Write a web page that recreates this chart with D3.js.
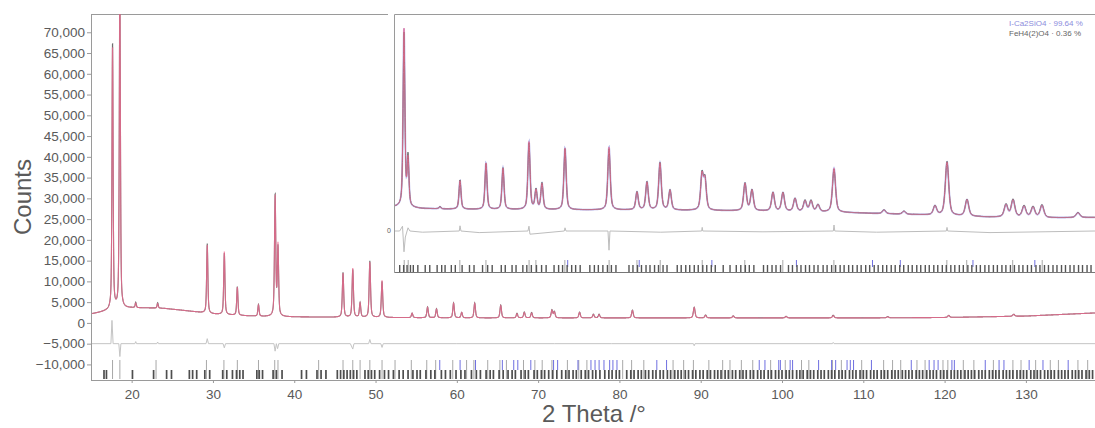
<!DOCTYPE html>
<html><head><meta charset="utf-8">
<script src="https://cdn.jsdelivr.net/npm/d3@7"></script>
<style>
body{margin:0;background:#fff;}
svg{display:block;font-family:"Liberation Sans",Arial,sans-serif;}
</style>
</head><body>
<svg id="chart" width="1095" height="428"></svg>
<script>
// ---------------- main pattern data ----------------
const bgX = [15, 16, 17, 18, 19, 20, 22, 24, 26, 28, 30, 33, 36, 40, 50, 60, 80, 100, 110, 120, 130, 138.5];
const bgY = [2150, 2500, 2900, 3300, 3500, 3600, 3600, 3500, 3100, 2650, 2150, 1800, 1550, 1450, 1300, 1200, 1200, 1200, 1200, 1300, 1650, 2400];

const peakPos    = [17.65, 18.55, 20.5, 23.2, 29.3, 31.4, 33.0, 35.6, 37.65, 38.0, 46.0, 47.2, 48.1, 49.3, 50.8,
                    54.5, 56.4, 57.5, 59.6, 60.6, 62.2, 65.4, 67.4, 68.3, 69.2, 71.7, 72.0, 75.1, 76.8, 77.5,
                    81.6, 89.2, 90.6, 94.0, 100.5, 106.3, 113.0, 120.5, 128.5];
const calcHeight = [63500, 80000, 1100, 1100, 16400, 15200, 6800, 2700, 28800, 17000, 10600, 11800, 3400, 13300, 8900,
                    1100, 2500, 2100, 3500, 1300, 3500, 3000, 1000, 1300, 1200, 1800, 1400, 1300, 800, 800,
                    1800, 2500, 600, 450, 350, 550, 250, 450, 450];
const obsHeight  = [64500, 78000, 1300, 1300, 16800, 14800, 6900, 2800, 29200, 16400, 10800, 11500, 3500, 13600, 8700,
                    1100, 2600, 2200, 3600, 1300, 3600, 3100, 1100, 1400, 1300, 1900, 1500, 1400, 900, 900,
                    1900, 2600, 700, 500, 400, 650, 300, 500, 500];

const diffX = [15, 17.45, 17.58, 17.72, 18.42, 18.55, 18.68, 20.4, 20.5, 20.6, 23.1, 23.2, 23.3, 29.15, 29.3, 29.45,
               31.25, 31.4, 31.55, 37.5, 37.65, 37.8, 37.95, 38.1, 46.9, 47.2, 47.35, 49.15, 49.3, 49.45,
               50.65, 50.8, 50.95, 60, 72, 79, 89.1, 89.2, 89.3, 106.2, 106.3, 106.4, 138.5];
const diffY = [-5000, -5000, 600, -5000, -5000, -8100, -5000, -5000, -4500, -5000, -5000, -4600, -5000, -5000, -3800, -5000,
               -5000, -6000, -5000, -5000, -6800, -5000, -6200, -5000, -5000, -6300, -5000, -5000, -4000, -5000,
               -5000, -5900, -5000, -5000, -5000, -5000, -5000, -5500, -5000, -5000, -4700, -5000, -5000];

// reflection markers (2θ)
const ticksMajor = [17.65, 18.55, 23.0, 29.2, 31.35, 33.0, 35.6, 37.6, 38.0, 43.0, 46.0, 47.2, 48.1, 49.3, 50.8,
                    52.4, 54.4, 56.3, 57.4, 59.5, 61.2, 62.1, 63.8, 65.3, 66.1, 68.2, 69.6, 70.5, 71.7, 73.6,
                    75.0, 76.0, 80.4, 81.5, 83.0, 86.6, 87.9, 89.1, 91.0, 92.7, 93.6, 95.0, 96.4, 98.6, 100.4,
                    102.4, 103.3, 106.2, 107.3, 109.8, 112.5, 113.6, 114.6, 116.6, 117.6, 119.8, 120.4, 122.3,
                    123.6, 126.0, 128.4, 129.4, 131.2, 133.0, 134.0, 136.4, 137.6];
const ticksBlue = [57.9, 60.4, 62.3, 65.6, 67.0, 67.5, 69.1, 71.9, 72.4, 74.9, 76.5, 77.0, 77.5, 78.1, 78.8, 79.2, 79.7,
                   84.6, 85.8, 97.2, 97.9, 99.6, 99.8, 101.0, 101.3, 104.5, 106.1, 106.6, 108.0, 108.4, 108.8,
                   111.0, 115.9, 118.1, 118.7, 119.2, 120.9, 121.2, 125.0, 126.7, 127.3, 130.4, 132.1, 135.2];
const ticksDark = [16.6, 16.9, 20.1, 22.7, 24.3, 24.9, 27.1, 27.5, 28.0, 29.0, 29.6, 31.2, 31.7, 32.4, 32.9, 33.3, 33.7,
  35.4, 35.7, 36.1, 37.4, 37.8, 38.5, 40.9, 41.5, 42.8, 43.3, 43.9, 45.3, 45.7, 46.1, 46.5, 46.9, 47.3, 47.7,
  48.7, 49.1, 49.5, 49.9, 50.5, 51.1, 51.6, 52.2, 52.9, 53.4, 54.0, 54.6, 55.1, 55.5, 56.2, 56.8, 57.3, 58.1,
  58.6, 59.2, 59.9, 60.5, 61.0, 61.8, 62.4, 62.9, 63.6, 64.1, 64.5, 65.2, 65.7, 66.3, 66.8, 67.2, 67.9, 68.4,
  68.8, 69.5, 69.9, 70.4, 70.8, 71.3, 71.8, 72.3, 72.9, 73.4, 73.8, 74.3, 74.7, 75.3, 75.8, 76.2, 76.7, 77.1,
  77.6, 78.2, 78.7, 79.1, 79.6, 80.0, 80.9, 81.4, 81.8, 82.3, 82.7, 83.2, 83.6, 84.1, 84.5, 85.0, 85.4, 85.9,
  86.3, 86.8, 87.2, 87.6, 88.1, 88.5, 89.0, 89.4, 89.9, 90.3, 90.8, 91.2, 91.7, 92.1, 92.5, 93.0, 93.4, 93.9,
  94.3, 94.8, 95.2, 95.6, 96.1, 96.5, 97.0, 97.4, 97.8, 98.3, 98.7, 99.2, 99.6, 100.0, 100.5, 100.9, 101.3,
  101.8, 102.2, 102.6, 103.1, 103.5, 103.9, 104.4, 104.8, 105.2, 105.7, 106.1, 106.5, 107.0, 107.4, 107.8,
  108.3, 108.7, 109.1, 109.6, 110.0, 110.4, 110.9, 111.3, 111.7, 112.2, 112.6, 113.0, 113.5, 113.9, 114.3,
  114.8, 115.2, 115.6, 116.0, 116.5, 116.9, 117.3, 117.8, 118.2, 118.6, 119.0, 119.5, 119.9, 120.3, 120.8,
  121.2, 121.6, 122.0, 122.5, 122.9, 123.3, 123.7, 124.2, 124.6, 125.0, 125.5, 125.9, 126.3, 126.7, 127.2,
  127.6, 128.0, 128.4, 128.9, 129.3, 129.7, 130.1, 130.6, 131.0, 131.4, 131.8, 132.3, 132.7, 133.1, 133.5,
  134.0, 134.4, 134.8, 135.2, 135.7, 136.1, 136.5, 136.9, 137.4, 137.8, 138.2];

const yTickValues = [-10000, -5000, 0, 5000, 10000, 15000, 20000, 25000, 30000, 35000, 40000, 45000, 50000, 55000, 60000, 65000, 70000];
const xTickValues = [20, 30, 40, 50, 60, 70, 80, 90, 100, 110, 120, 130];

// ---------------- inset pattern data ----------------
const insetBgX = [15, 20, 30, 45, 60, 80, 95, 105, 120, 130, 138.5];
const insetBgY = [6000, 5600, 5400, 5300, 5250, 5000, 4600, 4200, 3500, 3300, 3400];
const insetPeakPos = [16.76, 17.47, 23.1, 26.63, 31.21, 34.2, 38.78, 40.02, 41.07, 45.13, 52.88, 57.81, 59.57, 61.86,
                      63.63, 69.26, 69.79, 76.84, 78.07, 81.77, 83.53, 85.65, 87.41, 88.47, 89.7, 92.52, 101.33,
                      104.85, 110.31, 112.43, 115.95, 122.82, 124.06, 126.0, 127.58, 129.16, 135.5];
const insetCalcHeight = [44500, 11500, 500, 7100, 11600, 10300, 16900, 4700, 6400, 15400, 15700, 4400, 6900, 11700,
                         4900, 8600, 7300, 6800, 5100, 4600, 4600, 3200, 2600, 2600, 1700, 11000, 900,
                         700, 2200, 13300, 4100, 3000, 4200, 2700, 2500, 3000, 1200];
const insetObsHeight  = [43500, 12300, 600, 7300, 11500, 10400, 16600, 4900, 6600, 15300, 15300, 4500, 7000, 11800,
                         5000, 8800, 7500, 6900, 5200, 4700, 4700, 3300, 2800, 2800, 1800, 10800, 1000,
                         800, 2300, 13500, 4200, 3200, 4400, 2900, 2700, 3200, 1300];
const insetDiffX = [15, 16.0, 16.5, 16.76, 17.0, 17.47, 17.8, 20, 26.5, 26.63, 26.8, 30, 38.6, 38.78, 38.95, 45.0,
                    45.13, 45.3, 52.7, 52.88, 53.05, 62, 69.2, 69.3, 69.4, 80, 92.4, 92.52, 92.65, 100, 112.3,
                    112.43, 112.55, 120, 138.5];
const insetDiffY = [0, 0, 1200, -5200, -1500, 800, 0, -300, 0, 1300, 0, -400, 0, 1200, -800, 0,
                    800, 0, 0, -4800, 0, -300, 0, 900, 0, -200, 0, 1500, 0, -300, 0,
                    900, 0, -400, 0];
const insetTicksDark = [16.0, 16.7, 17.3, 17.9, 18.4, 19.2, 20.5, 21.3, 22.6, 23.4, 24.0, 25.1, 25.8, 27.0, 28.3, 29.1,
  30.6, 31.5, 32.3, 33.9, 34.6, 35.8, 36.5, 37.7, 38.4, 39.2, 40.1, 41.0, 41.8, 43.2, 44.0, 44.7, 45.5, 46.3,
  47.0, 47.8, 49.5, 50.3, 51.0, 51.8, 52.6, 53.3, 54.1, 56.4, 57.1, 57.9, 58.6, 59.4, 60.1, 60.9, 61.6, 62.4,
  63.1, 64.9, 65.6, 66.4, 67.1, 67.9, 68.6, 69.4, 70.1, 70.9, 71.6, 73.0, 74.2, 75.3, 76.1, 76.9, 77.6, 78.4,
  80.1, 80.8, 81.6, 82.3, 83.1, 84.5, 85.2, 86.0, 86.7, 87.5, 88.2, 89.0, 89.7, 90.6, 91.3, 92.1, 92.8, 93.6,
  94.3, 95.1, 95.8, 96.6, 97.3, 98.1, 98.8, 99.6, 100.3, 101.1, 101.8, 102.6, 103.3, 104.1, 104.8, 105.6,
  106.3, 107.1, 107.8, 108.6, 109.3, 110.1, 110.8, 111.6, 112.3, 113.1, 113.8, 114.6, 115.3, 116.1, 116.8,
  117.6, 118.3, 119.1, 119.8, 120.6, 121.3, 122.1, 122.8, 123.6, 124.3, 125.1, 125.8, 126.6, 127.3, 128.1,
  128.8, 129.6, 130.3, 131.1, 131.8, 132.6, 133.3, 134.1, 134.8, 135.6, 136.3, 137.1, 137.8];
const insetTicksMajor = [16.8, 17.5, 26.6, 31.2, 38.8, 40.0, 45.1, 52.9, 57.8, 61.9, 69.3, 76.8, 83.5, 92.5, 112.4, 115.9, 124.0, 129.2];
const insetTicksBlue = [45.6, 58.2, 71.0, 85.9, 99.3, 104.2, 117.0, 127.9];

const legendNames = ["I-Ca2SiO4 · 99.64 %", "FeH4(2)O4 · 0.36 %"];
const legendColors = ["#8c8cdc", "#666666"];

// ---------------- drawing ----------------
const svg = d3.select("#chart");
const textColor = "#5a5a5a";
const axisColor = "#9a9a9a";

const x = d3.scaleLinear().domain([15, 138.5]).range([91, 1095]);
const y = d3.scaleLinear().domain([-13750, 74400]).range([380, 14]);

function pv(t, p, h, w) {
  const u = (t - p) / (w / 2);
  const u2 = u * u;
  return h * (0.55 / (1 + u2) + 0.45 * Math.exp(-0.6931 * u2));
}
function profile(pos, heights, bgFn, widthFn, t) {
  let v = bgFn(t);
  for (let i = 0; i < pos.length; i++) {
    if (Math.abs(t - pos[i]) < 6) v += pv(t, pos[i], heights[i], widthFn(pos[i]));
  }
  return v;
}
const bgMain = d3.scaleLinear().domain(bgX).range(bgY);
const widthMain = p => 0.14 + 0.0012 * p;
const grid = d3.range(15, 138.5 + 1e-9, 0.02);

const defs = svg.append("defs");
defs.append("clipPath").attr("id", "mainClip").append("rect")
  .attr("x", 91).attr("y", 14).attr("width", 1004).attr("height", 366);

const line = d3.line().x(d => x(d[0])).y(d => y(d[1]));

// frame
svg.append("line").attr("x1", 91).attr("x2", 395).attr("y1", 14.5).attr("y2", 14.5).attr("stroke", axisColor);

const plot = svg.append("g").attr("clip-path", "url(#mainClip)");
const calcData = grid.map(t => [t, profile(peakPos, calcHeight, bgMain, widthMain, t)]);
const obsData = grid.map(t => [t, profile(peakPos, obsHeight, bgMain, widthMain, t)]);

plot.append("path").datum(d3.zip(diffX, diffY)).attr("d", line)
  .attr("fill", "none").attr("stroke", "#c4c4c4").attr("stroke-width", 1);
plot.append("path").datum(obsData).attr("d", line)
  .attr("fill", "none").attr("stroke", "#6e6e6e").attr("stroke-width", 1.1);
plot.append("path").datum(calcData).attr("d", line)
  .attr("fill", "none").attr("stroke", "#ef6a90").attr("stroke-width", 1.1).attr("stroke-opacity", 0.8);

// reflection markers
plot.append("g").selectAll("line").data(ticksMajor).join("line")
  .attr("x1", d => x(d)).attr("x2", d => x(d)).attr("y1", 360).attr("y2", 379)
  .attr("stroke", "#a8a8a8").attr("stroke-width", 1);
plot.append("g").selectAll("line").data(ticksBlue).join("line")
  .attr("x1", d => x(d)).attr("x2", d => x(d)).attr("y1", 360).attr("y2", 370)
  .attr("stroke", "#6f6fe0").attr("stroke-width", 1);
plot.append("g").selectAll("line").data(ticksDark).join("line")
  .attr("x1", d => x(d)).attr("x2", d => x(d)).attr("y1", 370).attr("y2", 379)
  .attr("stroke", "#4e4e4e").attr("stroke-width", 1.7);

// axes
const yAxis = d3.axisLeft(y).tickValues(yTickValues).tickSize(4).tickPadding(2)
  .tickFormat(d3.format(","));
const gy = svg.append("g").attr("transform", "translate(91,0)").call(yAxis);
gy.select(".domain").attr("d", "M0.5,14V380").attr("stroke", axisColor);
gy.selectAll(".tick line").attr("stroke", axisColor).attr("x1", 0.5);
gy.selectAll("text").attr("fill", textColor).attr("font-size", 13.5)
  .attr("font-family", "'Liberation Sans', Arial, sans-serif");

const xAxis = d3.axisBottom(x).tickValues(xTickValues).tickSize(3).tickPadding(6);
const gx = svg.append("g").attr("transform", "translate(0,380)").call(xAxis);
gx.select(".domain").attr("d", "M91,0.5H1095").attr("stroke", axisColor);
gx.selectAll(".tick line").attr("stroke", axisColor);
gx.selectAll("text").attr("fill", textColor).attr("font-size", 13.5)
  .attr("font-family", "'Liberation Sans', Arial, sans-serif");

svg.append("text").attr("transform", "translate(31,197) rotate(-90)")
  .attr("text-anchor", "middle").attr("fill", textColor).attr("font-size", 24).text("Counts");
svg.append("text").attr("x", 594).attr("y", 422)
  .attr("text-anchor", "middle").attr("fill", textColor).attr("font-size", 24).text("2 Theta /°");

// ---------------- inset ----------------
const ix = d3.scaleLinear().domain([15, 138.5]).range([394, 1095]);
const iy = d3.scaleLinear().domain([-10250, 54250]).range([272, 14]);
const iline = d3.line().x(d => ix(d[0])).y(d => iy(d[1]));
const bgInset = d3.scaleLinear().domain(insetBgX).range(insetBgY);
const widthInset = p => 0.32 + 0.0035 * p;

const inset = svg.append("g");
inset.append("rect").attr("x", 388).attr("y", 6).attr("width", 707).attr("height", 270).attr("fill", "#fff");
defs.append("clipPath").attr("id", "insetClip").append("rect")
  .attr("x", 394).attr("y", 14).attr("width", 701).attr("height", 258);
const ip = inset.append("g").attr("clip-path", "url(#insetClip)");
const igrid = d3.range(15, 138.5 + 1e-9, 0.03);
const iCalc = igrid.map(t => [t, profile(insetPeakPos, insetCalcHeight, bgInset, widthInset, t)]);
const iObs = igrid.map(t => [t, profile(insetPeakPos, insetObsHeight, bgInset, widthInset, t)]);

ip.append("path").datum(d3.zip(insetDiffX, insetDiffY)).attr("d", iline)
  .attr("fill", "none").attr("stroke", "#bdbdbd").attr("stroke-width", 1);
ip.append("path").datum(iCalc).attr("d", iline)
  .attr("fill", "none").attr("stroke", "#9a9ae0").attr("stroke-width", 1.8).attr("stroke-opacity", 0.7);
ip.append("path").datum(iObs).attr("d", iline)
  .attr("fill", "none").attr("stroke", "#666").attr("stroke-width", 1);
ip.append("path").datum(iCalc).attr("d", iline)
  .attr("fill", "none").attr("stroke", "#ef6a90").attr("stroke-width", 1).attr("stroke-opacity", 0.75);

ip.append("g").selectAll("line").data(insetTicksMajor).join("line")
  .attr("x1", d => ix(d)).attr("x2", d => ix(d)).attr("y1", 260).attr("y2", 272)
  .attr("stroke", "#a8a8a8").attr("stroke-width", 1);
ip.append("g").selectAll("line").data(insetTicksBlue).join("line")
  .attr("x1", d => ix(d)).attr("x2", d => ix(d)).attr("y1", 260).attr("y2", 267)
  .attr("stroke", "#7070e0").attr("stroke-width", 1);
ip.append("g").selectAll("line").data(insetTicksDark).join("line")
  .attr("x1", d => ix(d)).attr("x2", d => ix(d)).attr("y1", 265).attr("y2", 272)
  .attr("stroke", "#555").attr("stroke-width", 1.4);

inset.append("path").attr("d", "M394.5,272.5V14.5H1095").attr("fill", "none").attr("stroke", axisColor);
inset.append("path").attr("d", "M394.5,272.5H1095").attr("fill", "none").attr("stroke", "#777");
inset.append("text").attr("x", 391).attr("y", iy(0)).attr("dy", "0.35em")
  .attr("text-anchor", "end").attr("font-size", 7).attr("fill", textColor).text("0");

inset.append("g").selectAll("text").data(legendNames).join("text")
  .attr("x", 1009).attr("y", (d, i) => 26 + i * 10)
  .attr("font-size", 8).attr("fill", (d, i) => legendColors[i]).text(d => d);
</script>
</body></html>
